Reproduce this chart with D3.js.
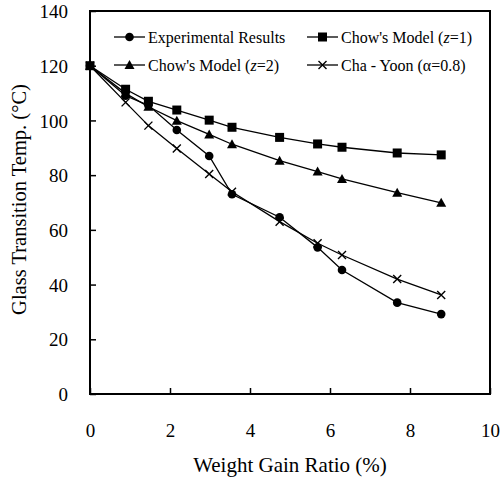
<!DOCTYPE html>
<html><head><meta charset="utf-8">
<script src="https://cdn.jsdelivr.net/npm/d3@7"></script>
<style>body{margin:0;background:#fff}svg{display:block}text{font-family:"Liberation Serif","Times New Roman",serif;fill:#000}</style>
</head><body><svg id="c" width="501" height="477"></svg>
<script>
const xTicks = [0, 2, 4, 6, 8, 10];
const yTicks = [0, 20, 40, 60, 80, 100, 120, 140];
const xExp = [0, 0.89, 1.46, 2.17, 2.98, 3.55, 4.74, 5.69, 6.3, 7.68, 8.78];
const experimental = [120, 109, 105.5, 96.5, 87, 73, 64.6, 53.6, 45.3, 33.4, 29.2];
const chowZ1 = [120, 111.4, 107, 103.8, 100.1, 97.5, 93.8, 91.4, 90.2, 88.1, 87.4];
const chowZ2 = [120, 109.9, 105, 99.9, 94.9, 91.3, 85.3, 81.3, 78.6, 73.6, 69.9];
const chaYoon = [120, 106.6, 98.1, 89.7, 80.4, 73.9, 63, 55.1, 50.8, 42, 36.2];
const seriesNames = ["Experimental Results", "Chow's Model (z=1)", "Chow's Model (z=2)", "Cha - Yoon (\u03b1=0.8)"];

const svg = d3.select("#c");
const L = 90, R = 490, T = 11, B = 394;
const x = d3.scaleLinear().domain([0, 10]).range([L, R]);
const y = d3.scaleLinear().domain([0, 140]).range([B, T]);

// frame
svg.append("rect").attr("x", L).attr("y", T).attr("width", R - L).attr("height", B - T)
  .attr("fill", "none").attr("stroke", "#000").attr("stroke-width", 2);

// axes with inward ticks
const xa = svg.append("g").attr("transform", `translate(0,${B})`)
  .call(d3.axisBottom(x).tickValues(xTicks).tickSizeInner(-6).tickSizeOuter(0).tickPadding(30));
const ya = svg.append("g").attr("transform", `translate(${L},0)`)
  .call(d3.axisLeft(y).tickValues(yTicks).tickSizeInner(-6).tickSizeOuter(0).tickPadding(22));
[xa, ya].forEach(g => {
  g.select(".domain").remove();
  g.selectAll(".tick line").attr("stroke", "#000").attr("stroke-width", 1.5);
  g.selectAll("text").attr("font-size", 19).attr("font-family", "Liberation Serif");
});
ya.selectAll("text").attr("dy", "0.35em");

svg.append("text").attr("x", (L + R) / 2).attr("y", 472).attr("text-anchor", "middle")
  .attr("font-size", 21).text("Weight Gain Ratio (%)");
svg.append("text").attr("transform", `translate(26,${(T + B) / 2 - 3}) rotate(-90)`)
  .attr("text-anchor", "middle").attr("font-size", 20.5).text("Glass Transition Temp. (\u00b0C)");

// markers
function marker(g, type, cx, cy) {
  if (type === 0) g.append("circle").attr("cx", cx).attr("cy", cy).attr("r", 4.3).attr("fill", "#000");
  else if (type === 1) g.append("rect").attr("x", cx - 4.5).attr("y", cy - 4.5).attr("width", 9).attr("height", 9).attr("fill", "#000");
  else if (type === 2) g.append("path").attr("d", `M${cx},${cy - 5}L${cx + 5},${cy + 4}L${cx - 5},${cy + 4}Z`).attr("fill", "#000");
  else g.append("path").attr("d", `M${cx - 4},${cy - 4}L${cx + 4},${cy + 4}M${cx - 4},${cy + 4}L${cx + 4},${cy - 4}`)
    .attr("stroke", "#000").attr("stroke-width", 1.4).attr("fill", "none");
}

const allSeries = [experimental, chowZ1, chowZ2, chaYoon];
const line = d3.line().x(d => x(d[0])).y(d => y(d[1]));
const plot = svg.append("g");
allSeries.forEach((vals, i) => {
  const pts = vals.map((v, j) => [xExp[j], v]);
  plot.append("path").attr("d", line(pts)).attr("fill", "none").attr("stroke", "#000").attr("stroke-width", 1.3);
});
allSeries.forEach((vals, i) => {
  vals.forEach((v, j) => marker(plot, i, x(xExp[j]), y(v)));
});

// legend
const leg = svg.append("g");
const legPos = [[114, 37], [307, 37], [114, 65], [307, 65]];
seriesNames.forEach((n, i) => {
  const [lx, ly] = legPos[i];
  leg.append("line").attr("x1", lx).attr("x2", lx + 31).attr("y1", ly).attr("y2", ly).attr("stroke", "#000").attr("stroke-width", 1.3);
  marker(leg, i, lx + 15.5, ly);
  const t = leg.append("text").attr("x", lx + 34).attr("y", ly).attr("dy", "0.35em").attr("font-size", 16);
  if (i === 1 || i === 2) {
    t.append("tspan").text("Chow's Model (");
    t.append("tspan").attr("font-style", "italic").text("z");
    t.append("tspan").text(i === 1 ? "=1)" : "=2)");
  } else t.text(n);
});
</script></body></html>
